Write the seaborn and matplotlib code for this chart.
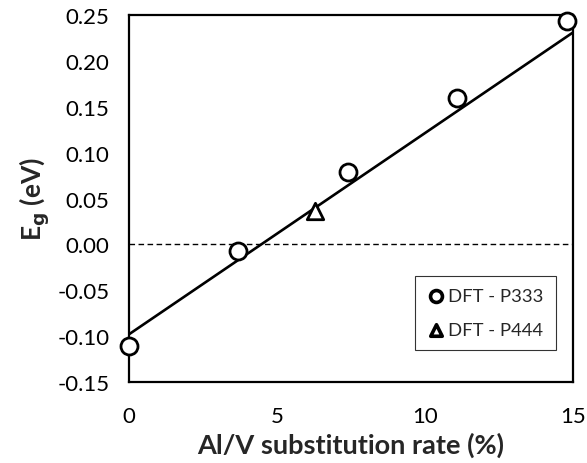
import numpy as np
import pandas as pd
import matplotlib
matplotlib.use("Agg")
import matplotlib.pyplot as plt
import seaborn as sns

# Data
p333_x = [0.0, 3.67, 7.41, 11.09, 14.79]
p333_y = [-0.111, -0.007, 0.079, 0.159, 0.244]
p444_x = [6.28]
p444_y = [0.036]
fit_x = [0.0, 15.0]
fit_y = [-0.098, 0.231]
x_ticks = [0, 5, 10, 15]
y_ticks = [-0.15, -0.10, -0.05, 0.00, 0.05, 0.10, 0.15, 0.20, 0.25]

sns.set_theme(style="white")
plt.rcParams['font.family'] = ['Lato', 'DejaVu Sans']
plt.rcParams['axes.unicode_minus'] = False

fig = plt.figure(figsize=(5.87, 4.64), dpi=100)
ax = fig.add_axes([129/587, 1-383/464, (573-129)/587, (383-16)/464])

df_fit = pd.DataFrame({"x": fit_x, "y": fit_y})
sns.lineplot(data=df_fit, x="x", y="y", ax=ax, color="black", linewidth=1.9, zorder=2)
ax.axhline(0, color="black", linestyle=(0, (4, 2.5)), linewidth=1.0, zorder=1)

df1 = pd.DataFrame({"x": p333_x, "y": p333_y})
df2 = pd.DataFrame({"x": p444_x, "y": p444_y})
sns.scatterplot(data=df1, x="x", y="y", ax=ax, marker="o", s=150, facecolor="white",
                edgecolor="black", linewidth=2.0, zorder=5, clip_on=False, label="DFT - P333")
sns.scatterplot(data=df2, x="x", y="y", ax=ax, marker="^", s=140, facecolor="white",
                edgecolor="black", linewidth=2.0, zorder=5, clip_on=False, label="DFT - P444")

ax.set_xlim(0, 15)
ax.set_ylim(-0.15, 0.25)
ax.set_xticks(x_ticks)
ax.set_yticks(y_ticks)
ax.set_xticklabels([str(t) for t in x_ticks])
ax.set_yticklabels([f"{t:.2f}" for t in y_ticks])
ax.tick_params(axis="both", direction="in", length=6, width=1.5, labelsize=16, colors="black")
ax.tick_params(axis="x", pad=17)
ax.tick_params(axis="y", pad=14)
for s in ax.spines.values():
    s.set_visible(True)
    s.set_color("black")
    s.set_linewidth(1.6)

ax.set_xlabel("Al/V substitution rate (%)", fontsize=19.5, fontweight="bold", labelpad=4)
ax.set_ylabel(r"E$_\mathbf{g}$ (eV)", fontsize=19, fontweight="bold", labelpad=4)

leg = ax.legend(loc="lower right", bbox_to_anchor=(0.982, 0.063), fontsize=13.3, frameon=True,
                fancybox=False, edgecolor="black", handletextpad=0.15, borderpad=0.65,
                labelspacing=0.95, handlelength=1.0, markerscale=0.7)
leg.get_frame().set_linewidth(0.8)
for h in leg.legend_handles:
    h.set_linewidth(2.6)

fig.savefig("out.png", dpi=100)
